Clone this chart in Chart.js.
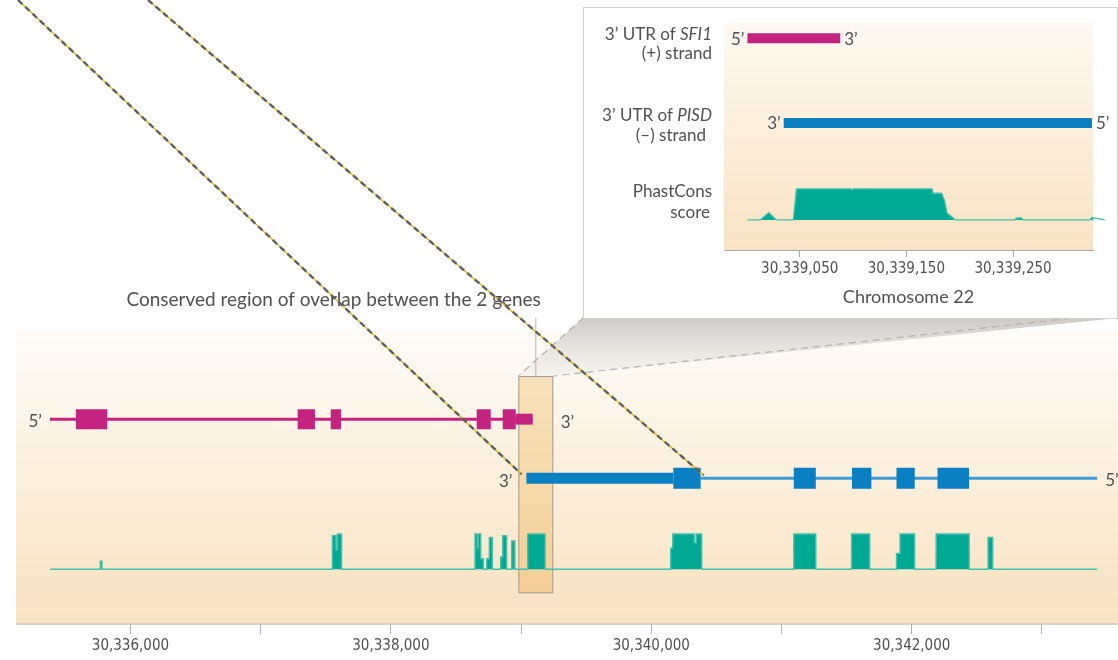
<!DOCTYPE html>
<html>
<head>
<meta charset="utf-8">
<script src="https://cdn.jsdelivr.net/npm/chart.js@4.4.1/dist/chart.umd.min.js"></script>
<style>
  html, body { margin: 0; padding: 0; background: #fff; }
  #wrap { position: relative; width: 1118px; height: 660px; overflow: hidden; }
  #mainChart { position: absolute; left: 0; top: 0; }
  #insetBox { position: absolute; left: 583px; top: 7px; width: 533px; height: 310px; background: #fff; border: 1px solid #d0d0d0; }
  #insetChart { position: absolute; left: 0; top: 0; }
</style>
</head>
<body>
<div id="wrap">
  <canvas id="mainChart" width="1118" height="660"></canvas>
  <div id="insetBox"><canvas id="insetChart" width="533" height="310"></canvas></div>
</div>
<script>
// main view, chromosome 22 positions (bp)
const sfiSpan = [30335382, 30339089];
const sfiExons = [[30335581, 30335822], [30337284, 30337417], [30337538, 30337617], [30338659, 30338767], [30338859, 30338959]];
const sfiUtr = [30338959, 30339089];

const pisdSpan = [30340379, 30343424];
const pisdUtr = [30339041, 30340169];
const pisdExons = [[30340169, 30340379], [30341094, 30341263], [30341541, 30341690], [30341883, 30342023], [30342198, 30342440]];

const overlapRegion = [30338979, 30339247];

// phastCons blocks: start, end, score
const consSpan = [30335383, 30343424];
const consBlocks = [
  [30335768, 30335781, 0.23],
  [30337551, 30337578, 0.95], [30337578, 30337590, 0.55], [30337590, 30337621, 1.0],
  [30338646, 30338664, 1.0], [30338664, 30338671, 0.6], [30338671, 30338690, 1.0], [30338690, 30338710, 0.3],
  [30338736, 30338756, 0.3], [30338756, 30338779, 0.9],
  [30338843, 30338859, 0.35], [30338859, 30338889, 0.95],
  [30338928, 30338952, 0.8],
  [30339051, 30339184, 1.0],
  [30340149, 30340165, 0.6], [30340165, 30340330, 1.0], [30340330, 30340345, 0.75], [30340345, 30340387, 1.0],
  [30341094, 30341263, 1.0],
  [30341538, 30341677, 1.0],
  [30341883, 30341910, 0.45], [30341910, 30342022, 1.0],
  [30342187, 30342441, 1.0],
  [30342586, 30342622, 0.9]
];

const mainTicks = [30336000, 30337000, 30338000, 30339000, 30340000, 30341000, 30342000, 30343000];
const mainTickLabels = [30336000, 30338000, 30340000, 30342000];

// inset (zoom on the overlap)
const insetSfiUtr = [30339001, 30339088];
const insetPisdUtr = [30339035, 30339324];
const insetConsPos = [30339001, 30339013, 30339021, 30339028, 30339044, 30339047, 30339098, 30339099, 30339100, 30339174, 30339175, 30339183, 30339186, 30339188, 30339196, 30339252, 30339253, 30339258, 30339259, 30339322, 30339324, 30339336];
const insetConsScore = [0, 0, 0.23, 0, 0, 1, 1, 0.96, 1, 1, 0.86, 0.86, 0.6, 0.22, 0, 0, 0.06, 0.06, 0, 0, 0.08, 0];
const insetTicks = [30339050, 30339150, 30339250];

const MAGENTA = '#c4237f';
const BLUE = '#0a7fc2';
const TEAL = '#00a993';
const TEXT = '#505050';
const LABEL_FONT = '17px Lato, "Open Sans", sans-serif';
const TICK_FONT = '"Liberation Sans Narrow", "DejaVu Sans Condensed", sans-serif';

function segments(ranges, level) {
  const pts = [];
  ranges.forEach(([s, e]) => {
    pts.push({ x: s, y: level }, { x: e, y: level }, { x: e, y: null });
  });
  return pts;
}

function consPoints(blocks, span) {
  const pts = [{ x: span[0], y: 0 }];
  let prevEnd = null;
  blocks.forEach(([s, e, h]) => {
    if (s !== prevEnd) {
      if (prevEnd !== null) pts.push({ x: prevEnd, y: 0 });
      pts.push({ x: s, y: 0 });
    }
    pts.push({ x: s, y: h }, { x: e, y: h });
    prevEnd = e;
  });
  pts.push({ x: prevEnd, y: 0 }, { x: span[1], y: 0 });
  return pts;
}

function trackLine(data, color, width, order) {
  return {
    type: 'line', data: data, yAxisID: 'yTrack', borderColor: color, borderWidth: width,
    borderCapStyle: 'butt', pointRadius: 0, fill: false, order: order, clip: false
  };
}

// ---------- main chart ----------
const mainDecor = {
  id: 'mainDecor',
  beforeDraw(chart) {
    const { ctx, chartArea: a, scales } = chart;
    const x = scales.x, yt = scales.yTrack;
    ctx.save();
    const g = ctx.createLinearGradient(0, a.top, 0, a.bottom);
    g.addColorStop(0, '#fefcf8');
    g.addColorStop(1, '#f8e2c0');
    ctx.fillStyle = g;
    ctx.fillRect(a.left, a.top, a.right - a.left, a.bottom - a.top);
    ctx.fillStyle = '#d9d1c4';
    ctx.fillRect(a.left, a.bottom - 1, a.right - a.left, 2);

    // projection towards the inset
    const bx0 = x.getPixelForValue(overlapRegion[0]);
    const bx1 = x.getPixelForValue(overlapRegion[1]);
    const bTop = yt.getPixelForValue(2.73);
    const tg = ctx.createLinearGradient(0, 318, 0, bTop);
    tg.addColorStop(0, 'rgba(200,195,192,0.9)');
    tg.addColorStop(1, 'rgba(240,238,235,0.5)');
    ctx.fillStyle = tg;
    ctx.beginPath();
    ctx.moveTo(583, 318);
    ctx.lineTo(1118, 318);
    ctx.lineTo(bx1, bTop);
    ctx.lineTo(bx0, bTop);
    ctx.closePath();
    ctx.fill();
    ctx.strokeStyle = '#b5b1ad';
    ctx.lineWidth = 1.2;
    ctx.setLineDash([7, 5]);
    ctx.beginPath();
    ctx.moveTo(583, 318); ctx.lineTo(bx0, bTop);
    ctx.moveTo(1118, 313); ctx.lineTo(bx1, bTop);
    ctx.stroke();
    ctx.restore();
  },
  beforeDatasetsDraw(chart) {
    const { ctx, scales } = chart;
    const x = scales.x, yt = scales.yTrack;
    const bx0 = x.getPixelForValue(overlapRegion[0]);
    const bx1 = x.getPixelForValue(overlapRegion[1]);
    const bTop = yt.getPixelForValue(2.73), bBot = yt.getPixelForValue(-0.95);
    ctx.save();
    const g = ctx.createLinearGradient(0, bTop, 0, bBot);
    g.addColorStop(0, 'rgba(248,224,184,0.95)');
    g.addColorStop(1, 'rgba(243,206,148,0.95)');
    ctx.fillStyle = g;
    ctx.fillRect(bx0, bTop, bx1 - bx0, bBot - bTop);
    ctx.strokeStyle = '#a39c92';
    ctx.lineWidth = 1;
    ctx.strokeRect(bx0 + 0.5, bTop + 0.5, bx1 - bx0 - 1, bBot - bTop - 1);
    // pointer from the caption
    const px = (bx0 + bx1) / 2;
    ctx.strokeStyle = '#b8b4b0';
    ctx.beginPath();
    ctx.moveTo(px, 318); ctx.lineTo(px, bTop);
    ctx.stroke();
    ctx.restore();
  },
  afterDraw(chart) {
    const { ctx, scales } = chart;
    const x = scales.x, yt = scales.yTrack;
    ctx.save();
    ctx.font = LABEL_FONT;
    ctx.fillStyle = TEXT;
    ctx.textBaseline = 'middle';
    const ySfi = yt.getPixelForValue(2), yPisd = yt.getPixelForValue(1);
    ctx.textAlign = 'right';
    ctx.fillText('5\u2019', x.getPixelForValue(sfiSpan[0]) - 8, ySfi + 2);
    ctx.fillText('3\u2019', x.getPixelForValue(pisdUtr[0]) - 14, yPisd + 3);
    ctx.textAlign = 'left';
    ctx.fillText('3\u2019', x.getPixelForValue(sfiUtr[1]) + 28, ySfi + 3);
    ctx.fillText('5\u2019', x.getPixelForValue(pisdSpan[1]) + 8, yPisd + 2);

    const px = (x.getPixelForValue(overlapRegion[0]) + x.getPixelForValue(overlapRegion[1])) / 2;
    ctx.textAlign = 'right';
    ctx.font = '19px Lato, "Open Sans", sans-serif';
    ctx.fillText('Conserved region of overlap between the 2 genes', px + 5, 300);

    // dashed guide lines
    const ends = [
      [18, 0, x.getPixelForValue(pisdUtr[0]) - 5, yPisd - 4],
      [148, 0, x.getPixelForValue(pisdExons[0][1]) + 3, yPisd - 3]
    ];
    ends.forEach(([x0, y0, x1, y1]) => {
      ctx.setLineDash([]);
      ctx.strokeStyle = '#e6b300';
      ctx.lineWidth = 1.3;
      ctx.beginPath(); ctx.moveTo(x0, y0); ctx.lineTo(x1, y1); ctx.stroke();
      ctx.setLineDash([6, 4]);
      ctx.strokeStyle = '#5f5f5f';
      ctx.lineWidth = 2.4;
      ctx.beginPath(); ctx.moveTo(x0, y0); ctx.lineTo(x1, y1); ctx.stroke();
    });
    ctx.restore();
  }
};

new Chart(document.getElementById('mainChart'), {
  type: 'line',
  data: {
    datasets: [
      trackLine(segments(sfiExons, 2), MAGENTA, 20, 1),
      trackLine(segments(pisdExons, 1), BLUE, 21, 1),
      trackLine(segments([sfiUtr], 2), MAGENTA, 11, 2),
      trackLine(segments([pisdUtr], 1), BLUE, 11, 2),
      trackLine(segments([sfiSpan], 2), MAGENTA, 3, 3),
      trackLine(segments([pisdSpan], 1), '#3f9bd5', 3, 3),
      {
        type: 'line', data: consPoints(consBlocks, consSpan), yAxisID: 'yCons',
        borderColor: '#45c0ad', borderWidth: 1.4, backgroundColor: TEAL,
        fill: 'origin', pointRadius: 0, tension: 0, order: 4, clip: false
      }
    ]
  },
  options: {
    responsive: false,
    maintainAspectRatio: false,
    devicePixelRatio: 1,
    animation: false,
    layout: { padding: { left: 16, right: 0, top: 330, bottom: 0 } },
    plugins: { legend: { display: false }, tooltip: { enabled: false } },
    scales: {
      x: {
        type: 'linear', min: 30335121, max: 30343584,
        afterBuildTicks: (s) => { s.ticks = mainTicks.map(v => ({ value: v })); },
        afterFit: (s) => { s.height = 36; },
        grid: { drawOnChartArea: false, drawTicks: true, tickLength: 10, color: '#b0b0b0' },
        border: { display: false },
        ticks: {
          autoSkip: false, maxRotation: 0, padding: 3, color: TEXT,
          font: { family: TICK_FONT, size: 15 },
          callback: (v) => mainTickLabels.includes(v) ? v.toLocaleString('en-US') : ''
        }
      },
      yTrack: { type: 'linear', display: false, min: -1.47, max: 3.51 },
      yCons: { type: 'linear', display: false, min: -1.55, max: 6.78 }
    }
  },
  plugins: [mainDecor]
});

// ---------- inset chart ----------
const insetDecor = {
  id: 'insetDecor',
  beforeDraw(chart) {
    const { ctx, chartArea: a } = chart;
    ctx.save();
    const g = ctx.createLinearGradient(0, a.top, 0, a.bottom);
    g.addColorStop(0, '#fdf9f1');
    g.addColorStop(1, '#f9e3c3');
    ctx.fillStyle = g;
    ctx.fillRect(a.left, a.top, a.right - a.left, a.bottom - a.top);
    ctx.restore();
  },
  afterDraw(chart) {
    const { ctx, scales } = chart;
    const x = scales.x, yt = scales.yTrack, yc = scales.yCons;
    ctx.save();
    ctx.font = LABEL_FONT;
    ctx.fillStyle = TEXT;
    ctx.textBaseline = 'middle';
    const rx = 128;
    const ySfi = yt.getPixelForValue(2), yPisd = yt.getPixelForValue(1);
    const yCons = (yc.getPixelForValue(0) + yc.getPixelForValue(1)) / 2;

    function mixed(plain, ital, xr, y) {
      ctx.font = 'italic ' + LABEL_FONT;
      const wi = ctx.measureText(ital).width;
      ctx.textAlign = 'right';
      ctx.fillText(ital, xr, y);
      ctx.font = LABEL_FONT;
      ctx.fillText(plain, xr - wi, y);
    }
    mixed('3\u2019 UTR of ', 'SFI1', rx, ySfi - 4);
    ctx.textAlign = 'right';
    ctx.fillText('(+) strand', rx, ySfi + 15);
    mixed('3\u2019 UTR of ', 'PISD', rx, yPisd - 7);
    ctx.textAlign = 'right';
    ctx.fillText('(\u2013) strand', rx - 6, yPisd + 13);
    ctx.fillText('PhastCons', rx, yCons - 13);
    ctx.fillText('score', rx - 2, yCons + 8);

    ctx.textAlign = 'right';
    ctx.fillText('5\u2019', x.getPixelForValue(insetSfiUtr[0]) - 3, ySfi + 1);
    ctx.fillText('3\u2019', x.getPixelForValue(insetPisdUtr[0]) - 3, yPisd + 1);
    ctx.textAlign = 'left';
    ctx.fillText('3\u2019', x.getPixelForValue(insetSfiUtr[1]) + 4, ySfi + 1);
    ctx.fillText('5\u2019', x.getPixelForValue(insetPisdUtr[1]) + 4, yPisd + 1);
    ctx.restore();
  }
};

new Chart(document.getElementById('insetChart'), {
  type: 'line',
  data: {
    datasets: [
      trackLine(segments([insetSfiUtr], 2), MAGENTA, 10, 1),
      trackLine(segments([insetPisdUtr], 1), BLUE, 10, 1),
      {
        type: 'line', data: insetConsPos.map((p, i) => ({ x: p, y: insetConsScore[i] })), yAxisID: 'yCons',
        borderColor: '#45c0ad', borderWidth: 1.4, backgroundColor: TEAL,
        fill: 'origin', pointRadius: 0, tension: 0, order: 2, clip: false
      }
    ]
  },
  options: {
    responsive: false,
    maintainAspectRatio: false,
    devicePixelRatio: 1,
    animation: false,
    layout: { padding: { left: 140, right: 24, top: 15, bottom: 10 } },
    plugins: { legend: { display: false }, tooltip: { enabled: false } },
    scales: {
      x: {
        type: 'linear', min: 30338979, max: 30339325,
        afterBuildTicks: (s) => { s.ticks = insetTicks.map(v => ({ value: v })); },
        afterFit: (s) => { s.height = 58; },
        grid: { drawOnChartArea: false, drawTicks: true, tickLength: 7, color: '#a8a8a8' },
        border: { display: true, color: '#a8a8a8', width: 1 },
        ticks: {
          autoSkip: false, maxRotation: 0, padding: 3, color: TEXT,
          font: { family: TICK_FONT, size: 15 },
          callback: (v) => v.toLocaleString('en-US')
        },
        title: {
          display: true, text: 'Chromosome 22', color: TEXT,
          font: { family: 'Lato, "Open Sans", sans-serif', size: 18 },
          padding: { top: 2, bottom: 0 }
        }
      },
      yTrack: { type: 'linear', display: false, min: -0.5, max: 2.18 },
      yCons: { type: 'linear', display: false, min: -0.97, max: 6.35 }
    }
  },
  plugins: [insetDecor]
});
</script>
</body>
</html>
